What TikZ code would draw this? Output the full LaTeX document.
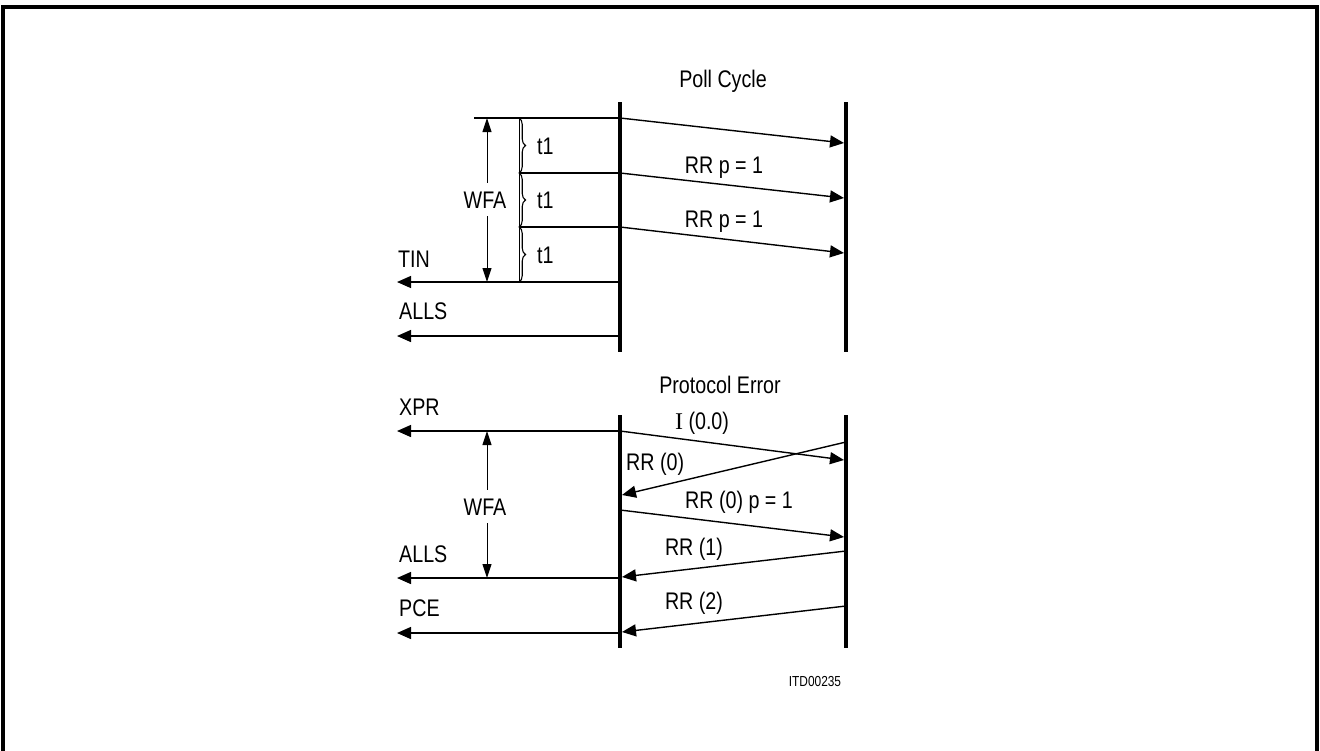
\documentclass[tikz,border=0pt]{standalone}
\usepackage{fontspec}
\setmainfont{Liberation Sans}[FakeStretch=0.82]
\newfontfamily\serifI{Liberation Serif}
\usetikzlibrary{arrows.meta,decorations.pathreplacing}
\begin{document}
\begin{tikzpicture}[x=1pt,y=-1pt,
  lifeline/.style={line width=3.4pt},
  msg/.style={line width=1.4pt,-{Triangle[length=14pt,width=12pt]}},
  plain/.style={line width=1.4pt},
  dim/.style={line width=1pt,{Triangle[length=14pt,width=9pt]}-{Triangle[length=14pt,width=9pt]}},
  lbl/.style={font=\fontsize{24}{28}\selectfont,inner sep=0pt,anchor=base},
  lbll/.style={lbl,anchor=base west},
  small/.style={font=\fontsize{14.5}{17}\selectfont,inner sep=0pt,anchor=base},
  tbrace/.style={line width=1.1pt,decorate,decoration={brace,amplitude=6.5pt}}
]
\useasboundingbox (0,0) rectangle (1320,750);
% frame
\draw[line width=3.2pt] (3,760) -- (3,7) -- (1317,7) -- (1317,760);

% ---------- Poll Cycle ----------
\coordinate (LT) at (620,102); \coordinate (LB) at (620,352);
\coordinate (RT) at (846,102); \coordinate (RB) at (846,352);
\draw[lifeline] (LT) -- (LB);
\draw[lifeline] (RT) -- (RB);
\node[lbl] (poll) at (723,87) {Poll Cycle};

\coordinate (s0) at (474,118); \coordinate (a0) at (620,118); \coordinate (b0) at (844,143);
\coordinate (s1) at (519,173); \coordinate (a1) at (620,173); \coordinate (b1) at (844,198);
\coordinate (s2) at (519,227); \coordinate (a2) at (620,227); \coordinate (b2) at (844,253);
\coordinate (a3) at (620,282); \coordinate (t3) at (397,282);
\coordinate (a4) at (620,336); \coordinate (t4) at (397,336);
\coordinate (v0) at (519,118); \coordinate (v3) at (519,282);

\draw[plain] (s0) -- (a0);
\draw[plain] (s1) -- (a1);
\draw[plain] (s2) -- (a2);
\draw[msg] (a0) -- (b0);
\draw[msg] (a1) -- (b1);
\draw[msg] (a2) -- (b2);
\draw[msg] (a3) -- (t3);
\draw[msg] (a4) -- (t4);
\draw[plain,line width=1pt] (v0) -- (v3);
\draw[tbrace] (v0) -- (s1);
\draw[tbrace] (s1) -- (s2);
\draw[tbrace] (s2) -- (v3);

\node[lbll] (t1a) at (537,154) {t1};
\node[lbll] (t1b) at (537,208) {t1};
\node[lbll] (t1c) at (537,263) {t1};
\node[lbl] (rr1) at (724,173) {RR p = 1};
\node[lbl] (rr2) at (724,227) {RR p = 1};
\node[lbll] (tin) at (398,267) {TIN};
\node[lbll] (alls1) at (399,319) {ALLS};

\coordinate (w0) at (487,118); \coordinate (w1) at (487,282);
\draw[dim] (w0) -- (w1);
\node[lbl,fill=white,inner ysep=8pt,inner xsep=2pt] (wfa1) at (485,208) {WFA};

% ---------- Protocol Error ----------
\coordinate (PLT) at (620,415); \coordinate (PLB) at (620,648);
\coordinate (PRT) at (846,415); \coordinate (PRB) at (846,648);
\draw[lifeline] (PLT) -- (PLB);
\draw[lifeline] (PRT) -- (PRB);
\node[lbl] (perr) at (720,393) {Protocol Error};

\coordinate (x0) at (620,431); \coordinate (xt) at (397,431);
\coordinate (i1) at (844,460);
\coordinate (r0s) at (846,442); \coordinate (r0e) at (622,495);
\coordinate (p0s) at (620,510); \coordinate (p0e) at (844,537);
\coordinate (r1s) at (846,551); \coordinate (r1e) at (622,577);
\coordinate (al0) at (620,578); \coordinate (alt) at (397,578);
\coordinate (r2s) at (846,606); \coordinate (r2e) at (622,632);
\coordinate (pc0) at (620,633); \coordinate (pct) at (397,633);

\draw[msg] (x0) -- (xt);
\draw[msg] (x0) -- (i1);
\draw[msg] (r0s) -- (r0e);
\draw[msg] (p0s) -- (p0e);
\draw[msg] (r1s) -- (r1e);
\draw[msg] (al0) -- (alt);
\draw[msg] (r2s) -- (r2e);
\draw[msg] (pc0) -- (pct);

\node[lbll] (xpr) at (399,415) {XPR};
\node[lbl] (i00) at (702,429) {{\serifI I} (0.0)};
\node[lbll] (rr0) at (626,470) {RR (0)};
\node[lbl] (rr0p) at (739,508) {RR (0) p = 1};
\node[lbl] (rr1b) at (694,555) {RR (1)};
\node[lbll] (alls2) at (399,562) {ALLS};
\node[lbl] (rr2b) at (694,609) {RR (2)};
\node[lbll] (pce) at (399,616) {PCE};

\coordinate (w2) at (487,431); \coordinate (w3) at (487,578);
\draw[dim] (w2) -- (w3);
\node[lbl,fill=white,inner ysep=8pt,inner xsep=2pt] (wfa2) at (485,515) {WFA};

\node[small] (itd) at (815,686) {ITD00235};
\end{tikzpicture}
\end{document}
